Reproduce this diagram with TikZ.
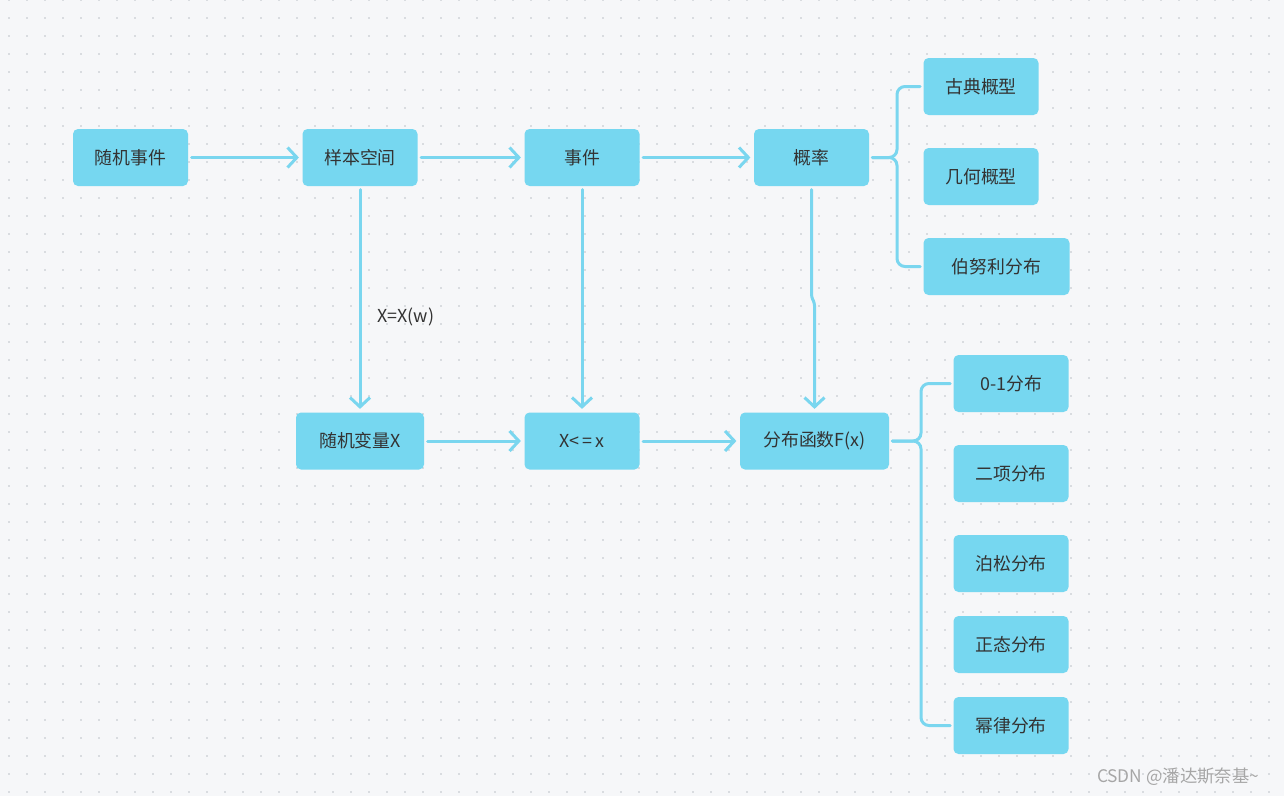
\documentclass[tikz,border=0pt]{standalone}
\usepackage{fontspec}
\setmainfont{Noto Sans CJK SC}
\usetikzlibrary{positioning, arrows.meta, calc}

\definecolor{boxcyan}{HTML}{76D7F0}
\definecolor{linecyan}{HTML}{7AD6EF}
\definecolor{bggray}{HTML}{F6F7F9}
\definecolor{dotgray}{HTML}{D9DCE0}
\definecolor{txtdark}{HTML}{333333}
\definecolor{markgray}{HTML}{A6A6A6}

\begin{document}
\begin{tikzpicture}[
  x=0.75pt, y=-0.75pt,
  font=\fontsize{13.4}{16}\selectfont,
  box/.style   = {fill=boxcyan, rounded corners=3.75pt, minimum width=86.25pt,
                  minimum height=42.75pt, inner sep=0pt, text=txtdark},
  arr/.style   = {-{Straight Barb[length=7pt,width=15pt]}, line width=2.25pt,
                  line cap=round, line join=round, color=linecyan,
                  shorten <=2.5pt, shorten >=2.5pt},
  brace/.style = {line width=2.25pt, line cap=round, color=linecyan, rounded corners=6pt},
  lbl/.style   = {text=txtdark, inner sep=1pt},
]

% =============================================================
% Background -- light paper with dot grid
% =============================================================
\fill[bggray] (0,0) rectangle (1284,796);
\useasboundingbox (0,0) rectangle (1284,796);
\foreach \gx in {0,...,71} {
  \foreach \gy in {0,...,44} {
    \fill[dotgray] ({8+18*\gx}, {-1+18*\gy}) rectangle ++(2,2);
  }
}

% =============================================================
% Top row -- events and probability
% =============================================================
\node[box] (suiji)  at (130.5, 157.5) {随机事件};
\node[box] (yangben) at (360, 157.5)  {样本空间};
\node[box] (shijian) at (582, 157.5)  {事件};
\node[box] (gailv)  at (811.5, 157.5) {概率};

% Probability models (brace to the right of 概率)
\node[box] (gudian) at (981, 86.5) {古典概型};
\node[box] (jihe)   [below=67.5pt of gudian.west, anchor=west] {几何概型};
\node[box, minimum width=109.5pt] (bonuli) [below=67.5pt of jihe.west, anchor=west] {伯努利分布};

% =============================================================
% Bottom row -- random variable and distribution function
% =============================================================
\node[box, minimum width=96pt]    (bianliang) at (360, 441)   {随机变量X};
\node[box]                        (xlex)      at (582, 441)   {X<\,=\,x};
\node[box, minimum width=111.75pt] (fenbu)    at (814.5, 441) {分布函数F(x)};

% Distributions (brace to the right of 分布函数F(x))
\node[box] (lingyi)  at (1011, 383.5) {0-1分布};
\node[box] (erxiang) [below=67.5pt of lingyi.west, anchor=west]  {二项分布};
\node[box] (bosong)  [below=67.5pt of erxiang.west, anchor=west] {泊松分布};
\node[box] (zhengtai) [below=60.75pt of bosong.west, anchor=west] {正态分布};
\node[box] (milv)    [below=60.75pt of zhengtai.west, anchor=west] {幂律分布};

% =============================================================
% Connectors
% =============================================================
\draw[arr] (suiji.east)   -- (yangben.west);
\draw[arr] (yangben.east) -- (shijian.west);
\draw[arr] (shijian.east) -- (gailv.west);

\draw[arr] (yangben.south) -- (bianliang.north)
  node[lbl, pos=0.58, right=11pt] (xlabel) {X=X(w)};
\draw[arr] (shijian.south) -- (xlex.north);

% small jog on the way down from 概率
\coordinate (jogA) at (811.5, 297);
\coordinate (jogB) at (814.5, 303);
\draw[arr, rounded corners=2pt] (gailv.south) -- (jogA) -- (jogB) -- (fenbu.north);

\draw[arr] (bianliang.east) -- (xlex.west);
\draw[arr] (xlex.east)      -- (fenbu.west);

% braces
\coordinate (gtip) at ($(gailv.east)+(3,0)$);
\draw[brace] ($(gudian.west)+(-3,0)$) -- (897, 86.5) -- (897, 157.5) -- (gtip);
\draw[brace] ($(bonuli.west)+(-3,0)$) -- (897, 266.5) -- (897, 157.5) -- (gtip);

\coordinate (ftip) at ($(fenbu.east)+(3,0)$);
\draw[brace] ($(lingyi.west)+(-3,0)$) -- (921, 383.5) -- (921, 441) -- (ftip);
\draw[brace] ($(milv.west)+(-3,0)$)   -- (921, 725.5) -- (921, 441) -- (ftip);

% watermark
\node[text=markgray, font=\fontsize{13}{15}\selectfont] (mark) at (1178, 777) {CSDN @潘达斯奈基\textasciitilde};

\end{tikzpicture}
\end{document}
